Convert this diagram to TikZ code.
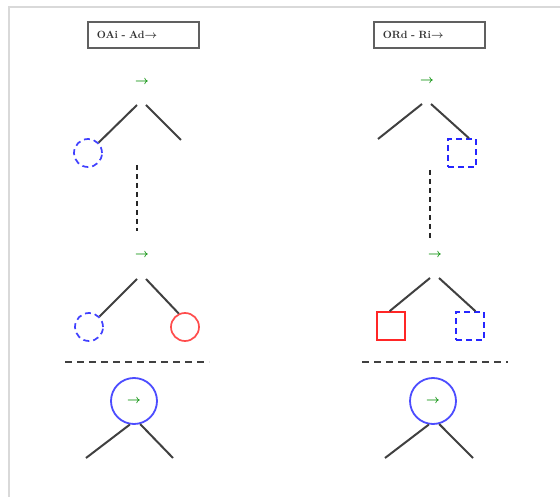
\documentclass[tikz,border=0pt]{standalone}
\usepackage{amsmath}
\usepackage{amssymb}
\usepackage{bm}
\usepackage{tikz}
\usetikzlibrary{calc}

\tikzset{
  rama/.style={black!75, line width=2pt},
  flecha/.style={text=green!55!black, font=\large, inner sep=0pt},
  caja/.style={draw=gray!75!black, line width=1.6pt, minimum height=26pt,
    text width=93pt, align=left, inner xsep=9pt, anchor=west,
    text=gray!40!black, font=\fontsize{10.5}{12}\selectfont\bfseries},
  hojac/.style={circle, draw=blue!75, line width=1.7pt, dash pattern=on 6pt off 4pt,
    minimum size=28pt, inner sep=0pt},
  hojar/.style={rectangle, draw=blue!85, line width=1.7pt, dash pattern=on 6pt off 4pt,
    minimum size=28pt, inner sep=0pt},
  rojoc/.style={circle, draw=red!70, line width=1.7pt, minimum size=28pt, inner sep=0pt},
  rojor/.style={rectangle, draw=red!85, line width=1.8pt, minimum size=28pt, inner sep=0pt},
  raiz/.style={circle, draw=blue!70, line width=1.8pt, minimum size=46pt, inner sep=0pt,
    text=green!55!black, font=\large},
  puntos/.style={black!85, line width=2.2pt, dash pattern=on 5pt off 4pt},
  corte/.style={gray!50!black, line width=2.2pt, dash pattern=on 7pt off 5pt}
}

\begin{document}
\begin{tikzpicture}[x=1pt, y=-1pt]
  \useasboundingbox (0,0) rectangle (560,497);

  % Marco
  \draw[gray!30, line width=2pt] (9,497) -- (9,7) -- (560,7);

  % Titulos
  \node[caja] (t1) at (87,35) {OAi - Ad$\bm{\rightarrow}$};
  \node[caja] (t2) at (373,35) {ORd - Ri$\bm{\rightarrow}$};

  % Columna izquierda: primer paso
  \node[flecha] (f1) at (142,82) {$\bm{\rightarrow}$};
  \coordinate (a1) at (137,105);
  \coordinate (b1) at (146,105);
  \coordinate (d1) at (181,140);
  \node[hojac] (h1) at (88,153) {};
  \draw[rama] (a1) -- (h1);
  \draw[rama] (b1) -- (d1);

  % Puntos suspensivos
  \coordinate (p1) at (137,165);
  \coordinate (q1) at (137,231);
  \draw[puntos] (p1) -- (q1);

  % Columna izquierda: segundo paso
  \node[flecha] (f2) at (142,255) {$\bm{\rightarrow}$};
  \coordinate (a2) at (137,279);
  \coordinate (b2) at (146,279);
  \node[hojac] (h2) at (89,327) {};
  \node[rojoc] (r2) at (185,327) {};
  \draw[rama] (a2) -- (h2);
  \draw[rama] (b2) -- (r2.115);

  % Linea de corte
  \coordinate (c1) at (65,362);
  \coordinate (c2) at (209,362);
  \draw[corte] (c1) -- (c2);

  % Resultado
  \node[raiz] (z1) at (134,401) {$\bm{\rightarrow}$};
  \coordinate (i1) at (86,458);
  \coordinate (j1) at (173,458);
  \draw[rama] (z1.-100) -- (i1);
  \draw[rama] (z1.-75) -- (j1);

  % Columna derecha: primer paso
  \node[flecha] (f3) at (427,81) {$\bm{\rightarrow}$};
  \coordinate (a3) at (422,104);
  \coordinate (b3) at (431,104);
  \coordinate (e3) at (378,139);
  \node[hojar] (h3) at (462,153) {};
  \draw[rama] (a3) -- (e3);
  \draw[rama] (b3) -- (h3.65);

  % Puntos suspensivos
  \coordinate (p2) at (430,170);
  \coordinate (q2) at (430,238);
  \draw[puntos] (p2) -- (q2);

  % Columna derecha: segundo paso
  \node[flecha] (f4) at (435,255) {$\bm{\rightarrow}$};
  \coordinate (a4) at (430,278);
  \coordinate (b4) at (439,278);
  \node[rojor] (r4) at (391,326) {};
  \node[hojar] (h4) at (470,326) {};
  \draw[rama] (a4) -- (r4.95);
  \draw[rama] (b4) -- (h4.70);

  % Linea de corte
  \coordinate (c3) at (362,362);
  \coordinate (c4) at (508,362);
  \draw[corte] (c3) -- (c4);

  % Resultado
  \node[raiz] (z2) at (433,401) {$\bm{\rightarrow}$};
  \coordinate (i2) at (385,458);
  \coordinate (j2) at (473,458);
  \draw[rama] (z2.-100) -- (i2);
  \draw[rama] (z2.-75) -- (j2);

\end{tikzpicture}
\end{document}
